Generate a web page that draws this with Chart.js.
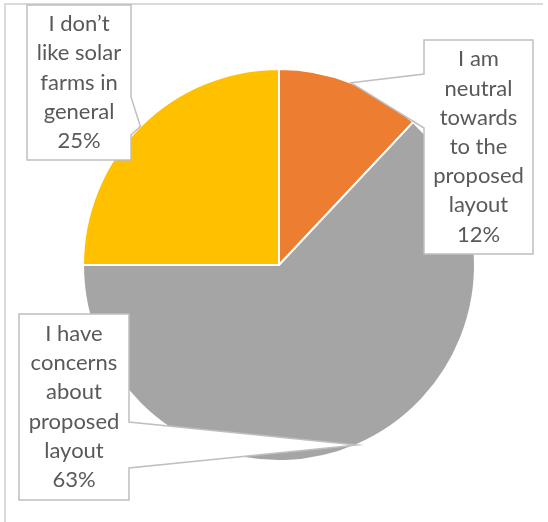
<!DOCTYPE html>
<html>
<head>
<meta charset="utf-8">
<script src="https://cdn.jsdelivr.net/npm/chart.js@4"></script>
<style>
html,body{margin:0;padding:0;background:#fff;}
canvas{display:block;}
</style>
</head>
<body>
<canvas id="c" width="548" height="522"></canvas>
<script>
// ---- data ----
const categories = [
  "I am neutral towards to the proposed layout",
  "I have concerns about proposed layout",
  "I don’t like solar farms in general"
];
const values = [12, 63, 25];
const colors = ["#ED7D31", "#A5A5A5", "#FFC000"];
const labelLines = [
  ["I am", "neutral", "towards", "to the", "proposed", "layout"],
  ["I have", "concerns", "about", "proposed", "layout"],
  ["I don’t", "like solar", "farms in", "general"]
];

// ---- callout box layout (x, y, w, h) and which side the pointer leaves from ----
const boxes = [
  {x: 424, y: 40, w: 109, h: 214, side: "left", p1: 34, p2: 88},
  {x: 19, y: 314, w: 110, h: 186, side: "right", p1: 108, p2: 154},
  {x: 27, y: 5, w: 104, h: 155, side: "right", p1: 92, p2: 130}
];

const FONT = '22px Lato, "Open Sans", sans-serif';
const TEXT_COLOR = "#595959";
const LINE_H = 29.2;

const frame = {
  id: "frame",
  beforeDraw(chart) {
    const ctx = chart.ctx;
    ctx.save();
    ctx.strokeStyle = "#d9d9d9";
    ctx.lineWidth = 2;
    ctx.beginPath();
    ctx.moveTo(5, 522);
    ctx.lineTo(5, 4);
    ctx.lineTo(543, 4);
    ctx.stroke();
    ctx.restore();
  }
};

const callouts = {
  id: "callouts",
  afterDraw(chart) {
    const ctx = chart.ctx;
    const meta = chart.getDatasetMeta(0);
    const total = values.reduce((a, b) => a + b, 0);
    meta.data.forEach((arc, i) => {
      const b = boxes[i];
      const mid = (arc.startAngle + arc.endAngle) / 2;
      const tx = arc.x + Math.cos(mid) * arc.outerRadius;
      const ty = arc.y + Math.sin(mid) * arc.outerRadius;
      ctx.save();
      ctx.beginPath();
      if (b.side === "left") {
        ctx.moveTo(b.x, b.y);
        ctx.lineTo(b.x + b.w, b.y);
        ctx.lineTo(b.x + b.w, b.y + b.h);
        ctx.lineTo(b.x, b.y + b.h);
        ctx.lineTo(b.x, b.y + b.p2);
        ctx.lineTo(tx, ty);
        ctx.lineTo(b.x, b.y + b.p1);
        ctx.closePath();
      } else {
        ctx.moveTo(b.x, b.y);
        ctx.lineTo(b.x + b.w, b.y);
        ctx.lineTo(b.x + b.w, b.y + b.p1);
        ctx.lineTo(tx, ty);
        ctx.lineTo(b.x + b.w, b.y + b.p2);
        ctx.lineTo(b.x + b.w, b.y + b.h);
        ctx.lineTo(b.x, b.y + b.h);
        ctx.closePath();
      }
      ctx.fillStyle = "#ffffff";
      ctx.fill();
      ctx.strokeStyle = "#bfbfbf";
      ctx.lineWidth = 1.5;
      ctx.lineJoin = "miter";
      ctx.stroke();

      const lines = labelLines[i].concat([Math.round(values[i] / total * 100) + "%"]);
      ctx.fillStyle = TEXT_COLOR;
      ctx.font = FONT;
      ctx.textAlign = "center";
      ctx.textBaseline = "middle";
      const cx = b.x + b.w / 2;
      const cy = b.y + b.h / 2;
      const start = cy - (lines.length - 1) * LINE_H / 2;
      lines.forEach((t, k) => ctx.fillText(t, cx, start + k * LINE_H));
      ctx.restore();
    });
  }
};

new Chart(document.getElementById("c"), {
  type: "pie",
  data: {
    labels: categories,
    datasets: [{
      data: values,
      backgroundColor: colors,
      borderColor: "#ffffff",
      borderWidth: 2
    }]
  },
  options: {
    responsive: false,
    animation: false,
    devicePixelRatio: 1,
    layout: {padding: {left: 82, right: 72, top: 68, bottom: 60}},
    plugins: {legend: {display: false}, tooltip: {enabled: false}}
  },
  plugins: [frame, callouts]
});
</script>
</body>
</html>
